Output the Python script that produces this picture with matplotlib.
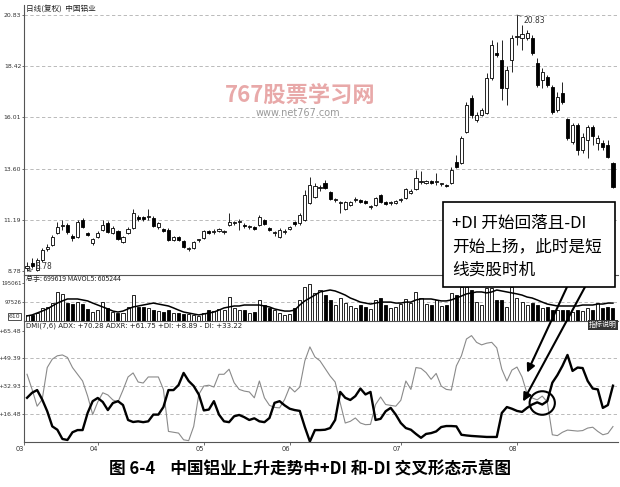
import matplotlib
matplotlib.use('Agg')
import matplotlib.pyplot as plt
from matplotlib.patches import Rectangle, Ellipse
import numpy as np

plt.rcParams['font.family'] = ['DejaVu Sans', 'Noto Sans CJK SC']
CJK = ['Noto Sans CJK SC', 'DejaVu Sans']

# ---------------- data ----------------
opens = [8.92, 9.16, 8.83, 9.30, 9.82, 10.01, 10.57, 10.90, 10.95, 10.43,
         10.38, 11.18, 10.57, 10.10, 10.38, 10.71, 11.04, 10.57, 10.66, 10.15,
         10.57, 10.81, 11.32, 11.32, 11.32, 11.28, 10.85, 10.76, 10.71, 10.24,
         10.38, 10.19, 9.82, 9.86, 10.24, 10.34, 10.66, 10.62, 10.66, 10.62,
         10.95, 11.04, 11.09, 10.95, 10.85, 10.85, 10.95, 11.18, 10.81, 10.57,
         10.38, 10.62, 10.76, 11.09, 11.04, 11.18, 11.98, 12.26, 12.69, 12.92,
         12.50, 12.12, 11.98, 11.70, 11.89, 12.12, 12.12, 12.08, 11.79, 11.89,
         12.36, 12.03, 11.98, 11.98, 12.12, 12.22, 12.45, 12.64, 12.97, 12.92,
         13.02, 12.97, 12.88, 12.83, 12.92, 13.91, 13.87, 15.33, 16.93, 15.89,
         16.13, 16.22, 17.87, 19.05, 18.72, 17.40, 18.72, 19.80, 19.75, 19.75,
         19.75, 18.57, 17.77, 17.92, 17.44, 16.36, 17.16, 15.94, 14.85, 15.65,
         14.48, 14.95, 15.56, 14.81, 14.81, 14.71, 13.87]
closes = [9.02, 9.02, 9.30, 9.77, 9.91, 10.38, 10.85, 10.95, 10.62, 10.34,
          11.09, 10.85, 10.48, 10.29, 10.57, 10.95, 10.62, 10.81, 10.29, 10.38,
          10.76, 11.51, 11.23, 11.23, 11.32, 10.90, 11.04, 10.66, 10.24, 10.38,
          10.24, 9.91, 9.82, 10.15, 10.24, 10.66, 10.57, 10.62, 10.76, 10.62,
          11.09, 11.04, 11.09, 10.90, 10.85, 10.76, 11.32, 10.99, 10.71, 10.57,
          10.71, 10.62, 10.85, 10.99, 11.42, 12.36, 12.83, 12.78, 12.69, 12.69,
          12.17, 12.12, 11.98, 12.03, 12.03, 12.12, 12.03, 11.98, 11.79, 12.22,
          12.03, 11.94, 11.98, 12.08, 12.12, 12.64, 12.55, 13.16, 12.97, 13.02,
          12.92, 12.97, 12.88, 12.78, 13.54, 13.68, 15.04, 16.60, 16.13, 16.13,
          16.36, 17.87, 19.42, 18.95, 17.40, 18.24, 19.75, 19.85, 19.94, 19.99,
          19.05, 17.54, 18.15, 17.54, 16.27, 16.97, 16.74, 15.04, 15.65, 14.48,
          15.09, 15.56, 15.14, 15.04, 14.62, 14.15, 12.74]
highs = [9.21, 9.39, 9.39, 9.86, 10.05, 10.48, 11.09, 11.18, 11.04, 10.52,
         11.18, 11.28, 10.62, 10.34, 10.66, 11.18, 11.14, 10.90, 10.71, 10.43,
         10.85, 11.70, 11.42, 11.37, 11.70, 11.37, 11.09, 10.81, 10.81, 10.43,
         10.43, 10.24, 9.91, 10.19, 10.29, 10.71, 10.71, 10.76, 10.81, 10.71,
         11.51, 11.14, 11.23, 11.04, 10.95, 10.90, 11.42, 11.23, 10.85, 10.66,
         10.81, 10.76, 10.90, 11.14, 11.51, 12.60, 13.21, 12.92, 12.83, 13.07,
         12.55, 12.22, 12.08, 12.08, 12.08, 12.26, 12.17, 12.12, 11.89, 12.26,
         12.41, 12.08, 12.08, 12.12, 12.22, 12.69, 12.64, 13.54, 13.49, 13.07,
         13.07, 13.39, 12.92, 12.88, 13.68, 14.24, 15.14, 16.74, 17.07, 16.27,
         16.46, 18.10, 19.66, 19.56, 19.66, 18.43, 19.89, 20.83, 20.36, 20.13,
         19.89, 18.81, 18.34, 18.01, 17.54, 17.21, 17.68, 15.98, 15.75, 15.75,
         15.28, 15.65, 15.65, 15.18, 14.95, 14.95, 13.91]
lows = [8.78, 8.92, 8.80, 9.21, 9.72, 9.96, 10.52, 10.71, 10.52, 10.19,
        10.34, 10.81, 10.43, 10.01, 10.34, 10.66, 10.57, 10.52, 10.24, 10.10,
        10.52, 10.76, 11.14, 11.14, 11.18, 10.85, 10.76, 10.62, 10.19, 10.19,
        10.19, 9.86, 9.72, 9.82, 10.15, 10.29, 10.52, 10.52, 10.62, 10.52,
        10.90, 10.95, 10.71, 10.81, 10.76, 10.71, 10.90, 10.95, 10.66, 10.43,
        10.34, 10.52, 10.71, 10.90, 10.95, 11.14, 11.94, 12.22, 12.55, 12.64,
        12.12, 12.03, 11.51, 11.65, 11.84, 12.03, 11.98, 11.94, 11.70, 11.84,
        11.98, 11.89, 11.89, 11.94, 12.03, 12.17, 12.41, 12.60, 12.88, 12.88,
        12.88, 12.83, 12.78, 12.74, 12.88, 13.63, 13.82, 15.28, 15.98, 15.80,
        16.08, 16.17, 17.77, 18.86, 16.83, 16.60, 18.15, 19.42, 19.19, 19.66,
        18.95, 17.44, 17.40, 17.44, 16.17, 16.27, 16.64, 14.95, 14.76, 14.24,
        14.34, 14.10, 14.71, 14.48, 14.48, 14.10, 12.69]
volumes = [31000, 31000, 41000, 67000, 72000, 92000, 149000, 139000, 92000, 87000,
           97000, 87000, 62000, 46000, 56000, 97000, 67000, 46000, 41000, 41000,
           72000, 133000, 72000, 72000, 67000, 56000, 51000, 46000, 56000, 41000,
           41000, 36000, 36000, 31000, 26000, 41000, 56000, 51000, 62000, 56000,
           123000, 67000, 56000, 56000, 41000, 46000, 108000, 82000, 67000, 56000,
           41000, 31000, 36000, 67000, 108000, 175000, 190000, 144000, 159000, 133000,
           108000, 82000, 118000, 92000, 77000, 67000, 82000, 72000, 62000, 108000,
           118000, 82000, 67000, 72000, 87000, 113000, 92000, 149000, 118000, 87000,
           82000, 108000, 77000, 82000, 144000, 133000, 175000, 175000, 159000, 97000,
           82000, 169000, 169000, 108000, 108000, 72000, 175000, 118000, 97000, 82000,
           92000, 82000, 67000, 72000, 56000, 56000, 56000, 56000, 46000, 56000,
           51000, 67000, 56000, 92000, 67000, 72000, 67000]
mavol5 = [26000, 31000, 41000, 51000, 62000, 77000, 92000, 103000, 113000, 113000,
          113000, 108000, 103000, 92000, 82000, 72000, 62000, 51000, 46000, 51000,
          62000, 72000, 77000, 82000, 87000, 92000, 87000, 82000, 77000, 67000,
          56000, 46000, 41000, 36000, 31000, 36000, 41000, 46000, 56000, 67000,
          72000, 77000, 77000, 82000, 82000, 82000, 82000, 77000, 72000, 62000,
          56000, 51000, 51000, 56000, 82000, 103000, 118000, 133000, 149000, 154000,
          159000, 154000, 144000, 133000, 118000, 108000, 97000, 92000, 87000, 92000,
          97000, 97000, 97000, 92000, 92000, 97000, 97000, 108000, 113000, 113000,
          113000, 108000, 103000, 103000, 108000, 118000, 128000, 139000, 144000, 149000,
          149000, 144000, 149000, 159000, 154000, 149000, 144000, 139000, 133000, 123000,
          118000, 108000, 97000, 87000, 82000, 77000, 77000, 77000, 77000, 77000,
          82000, 82000, 82000, 87000, 87000, 92000, 92000]
plus_di = [40, 31, 21, 25, 44, 49, 51, 51.5, 50, 44,
           40, 36, 27, 16, 23.5, 29, 27.7, 24.7, 23.5, 30.6,
           38.4, 40.8, 35.4, 34.8, 38.4, 38.4, 38.4, 31, 6, 5.5,
           5, 1, 0.5, 9, 28, 33, 33.5, 32.4, 40, 40,
           43, 35, 31, 30, 29.5, 26, 36, 26, 21.5, 20.3,
           20, 25, 32.4, 29.5, 32.4, 48, 56.3, 50.3, 48, 43.5,
           39, 35.4, 23, 11, 12, 14, 11, 10, 10.2, 22,
           26.5, 22, 21.5, 21, 24.5, 36, 31, 44, 43.5, 41,
           37, 40.5, 33, 31, 30.6, 45, 51, 61, 63, 59,
           57.5, 58.5, 59, 55.7, 43, 36, 42.5, 44.3, 38.4, 28.5,
           25.9, 24.8, 27, 23.5, 4, 3.5, 5.5, 6.8, 6.5, 6.2,
           6.5, 8, 8.5, 6, 4, 4.8, 8.89]
minus_di = [26, 29, 30.6, 25, 18, 9, 7, 1.5, 0.9, 5.5,
            6.8, 6.8, 17, 24, 25.9, 23.5, 18.7, 22.9, 24, 21.7,
            12.8, 11.6, 12, 11.5, 12, 16, 16, 20.5, 30.6, 30.6,
            33.6, 40.8, 36, 33, 28, 18.5, 19, 24, 16, 12,
            11.5, 15, 15.8, 14.5, 12.8, 13.8, 12, 11.5, 14, 23,
            24, 21.5, 19.5, 18.7, 18.2, 8.6, 0, 6.8, 6.8, 7,
            8, 12.8, 29.5, 26, 24.7, 27, 31.5, 28, 29.5, 12.8,
            13.5, 18, 20, 16, 11, 8, 7, 4.5, 2.2, 4.5,
            5, 6, 8.6, 9.2, 9.2, 9, 4, 3.6, 3.3, 3.1,
            2.9, 2.7, 2.7, 2.7, 17, 20.5, 19.5, 18.2, 17.6, 20,
            22, 23.3, 22, 24, 35, 39.5, 45, 51.5, 42, 44,
            43.7, 36, 31.5, 31, 20, 21.7, 33.22]
price_ticks = [8.78, 11.19, 13.60, 16.01, 18.42, 20.83]
vol_ticks = [97526, 195061]
dmi_ticks = [16.48, 32.93, 49.39, 65.48]
month_labels = ['03', '04', '05', '06', '07', '08']
month_start = [-0.6, 14, 35, 52, 74, 97]

# ---------------- figure ----------------
W, H = 620, 487
fig = plt.figure(figsize=(W / 100, H / 100), dpi=100)
fig.patch.set_facecolor('white')

def fx(px):
    return px / W

def fy(py):
    return 1 - py / H

L, R = 24, 618
ax_p = fig.add_axes([fx(L), fy(275), fx(R - L), (275 - 5) / H])
ax_v = fig.add_axes([fx(L), fy(321), fx(R - L), (321 - 275) / H])
ax_d = fig.add_axes([fx(L), fy(441.5), fx(R - L), (441.5 - 321) / H])

n = len(opens)
x = np.arange(n)
o = np.array(opens); c = np.array(closes)
hi = np.array(highs); lo = np.array(lows)
up = c >= o

grid_kw = dict(color='#b0b0b0', lw=0.6, ls=(0, (4, 3)), zorder=0)
TL = 4.4

for ax in (ax_p, ax_v, ax_d):
    ax.set_xlim(-0.6, 117.0)
    for s in ('top', 'right'):
        ax.spines[s].set_visible(False)
    ax.spines['left'].set_color('#555555')
    ax.spines['bottom'].set_color('#555555')
    ax.spines['left'].set_linewidth(0.8)
    ax.spines['bottom'].set_linewidth(0.8)
    ax.tick_params(axis='y', labelsize=TL, length=1.5, width=0.5, pad=0.5, colors='#333333')
    ax.set_facecolor('none')

# price panel
ax_p.set_ylim(8.59, 21.30)
for t in price_ticks[1:]:
    ax_p.axhline(t, **grid_kw)
ax_p.vlines(x, lo, hi, color='black', lw=0.6, zorder=2)
body_h = np.maximum(np.abs(c - o), 0.03)
ax_p.bar(x[up], body_h[up], bottom=np.minimum(o, c)[up], width=0.62,
         facecolor='white', edgecolor='black', lw=0.6, zorder=3)
ax_p.bar(x[~up], body_h[~up], bottom=np.minimum(o, c)[~up], width=0.62,
         facecolor='black', edgecolor='black', lw=0.6, zorder=3)
ax_p.set_yticks(price_ticks)
ax_p.set_yticklabels([f'{t:.2f}' for t in price_ticks])
ax_p.set_xticks([])

imax = int(np.argmax(hi))
ax_p.annotate(f'{hi[imax]:.2f}', xy=(imax, hi[imax]), xytext=(5, -4),
              textcoords='offset points', fontsize=5.5, color='#333333', va='center',
              arrowprops=dict(arrowstyle='-', lw=0.5, color='#333333', shrinkA=0, shrinkB=0))
imin = int(np.argmin(lo))
ax_p.annotate(f'{lo[imin]:.2f}', xy=(imin, lo[imin]), xytext=(6, 3),
              textcoords='offset points', fontsize=5.5, color='#333333', va='center',
              arrowprops=dict(arrowstyle='->', lw=0.5, color='#333333', shrinkA=0, shrinkB=0))

# volume panel
ax_v.set_ylim(0, 236000)
ax_v.axhline(vol_ticks[0], **grid_kw)
vol = np.array(volumes)
ax_v.bar(x[up], vol[up], width=0.6, facecolor='white', edgecolor='black', lw=0.6, zorder=2)
ax_v.bar(x[~up], vol[~up], width=0.6, facecolor='black', edgecolor='black', lw=0.6, zorder=2)
ax_v.plot(x, mavol5, color='black', lw=1.1, zorder=3)
ax_v.set_yticks(vol_ticks)
ax_v.set_yticklabels([str(v) for v in vol_ticks])
ax_v.tick_params(axis='y', labelsize=3.9, pad=0.3)
ax_v.set_xticks([])
ax_v.text(-0.006, 0.1, '610', transform=ax_v.transAxes, ha='right', va='center',
          fontsize=TL, color='#333333',
          bbox=dict(fc='white', ec='#333333', lw=0.6, pad=0.5))

# DMI panel
ax_d.set_ylim(0, 71.7)
for t in dmi_ticks[:3]:
    ax_d.axhline(t, **grid_kw)
ax_d.plot(x, plus_di, color='#8a8a8a', lw=0.8, zorder=2)
ax_d.plot(x, minus_di, color='black', lw=1.7, zorder=3)
ax_d.set_yticks(dmi_ticks)
ax_d.set_yticklabels([f'+{t:.2f}' for t in dmi_ticks])
ax_d.set_xticks(month_start)
ax_d.set_xticklabels(month_labels)
ax_d.tick_params(axis='x', labelsize=TL + 0.4, length=2, width=0.5, pad=1, colors='#333333')
for lab in ax_d.get_xticklabels():
    lab.set_ha('right')

# headers
fig.text(fx(26), fy(9), '日线(复权)  中国铝业', fontsize=5.5, va='center',
         family=CJK, color='#222222')
fig.text(fx(26), fy(279), '总手: 699619 MAVOL5: 605244', fontsize=5, va='center',
         family=CJK, color='#222222')
fig.text(fx(26), fy(326), 'DMI(7,6) ADX: +70.28 ADXR: +61.75 +DI: +8.89 - DI: +33.22',
         fontsize=5, va='center', color='#222222')
fig.text(fx(617), fy(325), '指标说明', fontsize=5, va='center', ha='right',
         family=CJK, color='white',
         bbox=dict(fc='#333333', ec='none', pad=1.0))

# watermark
fig.text(fx(300), fy(95), '767股票学习网', fontsize=16, ha='center', va='center',
         family=CJK, weight='bold', color='#e59a9a', alpha=0.85)
fig.text(fx(298), fy(113), 'www.net767.com', fontsize=7, ha='center', va='center',
         color='#9a9a9a')

# callout box
fig.patches.append(Rectangle((fx(443), fy(287)), fx(615 - 443), (287 - 202) / H,
                             transform=fig.transFigure, facecolor='white',
                             edgecolor='black', lw=1.2, zorder=10))
for ty, s in [(223, '+DI 开始回落且-DI'), (247, '开始上扬，此时是短'), (270, '线卖股时机')]:
    fig.text(fx(452), fy(ty), s, fontsize=12, va='center', ha='left',
             family=CJK, color='black', zorder=11)

arrow_kw = dict(arrowstyle='-|>', color='black', lw=1.5, mutation_scale=12,
                shrinkA=0, shrinkB=0)
ax_d.annotate('', xy=(99.0, 41.0), xycoords='data',
              xytext=(fx(567), fy(287)), textcoords='figure fraction',
              arrowprops=arrow_kw, annotation_clip=False, zorder=12)
ax_d.annotate('', xy=(98.2, 23.8), xycoords='data',
              xytext=(fx(585), fy(287)), textcoords='figure fraction',
              arrowprops=arrow_kw, annotation_clip=False, zorder=12)
ax_d.add_patch(Ellipse((102, 22.9), width=5.0, height=14, fill=False,
                       edgecolor='black', lw=1.5, zorder=5))

# caption
fig.text(0.5, fy(468), '图 6-4    中国铝业上升走势中+DI 和-DI 交叉形态示意图',
         fontsize=12, weight='bold', ha='center', va='center', family=CJK)

fig.savefig('out.png', dpi=100)
